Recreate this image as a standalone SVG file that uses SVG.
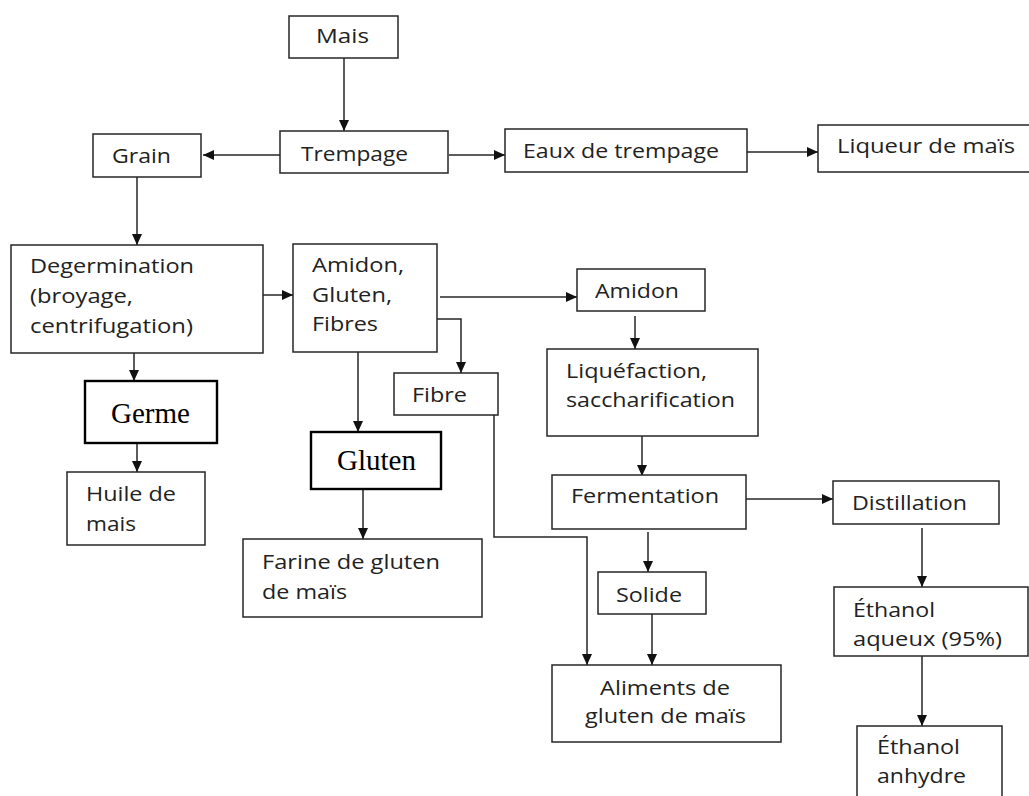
<svg xmlns="http://www.w3.org/2000/svg" width="1029" height="796" viewBox="0 0 1029 796">
  <style>
    .box { fill: #ffffff; stroke: #262626; stroke-width: 1.5; }
    .box-bold { fill: #ffffff; stroke: #000000; stroke-width: 2.4; }
    .lbl { font-family: "Open Sans", "Liberation Sans", sans-serif; font-size: 20px; fill: #222222; }
    .lbl-serif { font-family: "Liberation Serif", "Times New Roman", serif; font-size: 29px; fill: #000000; }
    .link { fill: none; stroke: #262626; stroke-width: 1.5; marker-end: url(#head); }
  </style>
  <defs>
    <marker id="head" markerUnits="userSpaceOnUse" markerWidth="12" markerHeight="12" viewBox="0 0 12 12" refX="11" refY="6" orient="auto">
      <path d="M0,1 L11,6 L0,11 Z" fill="#111111"/>
    </marker>
  </defs>
  <rect width="1029" height="796" fill="#ffffff"/>

  <!-- connectors -->
  <g id="connectors">
    <path class="link" d="M344,58 V131"/>
    <path class="link" d="M280,155 H203"/>
    <path class="link" d="M449,155 H505"/>
    <path class="link" d="M744,152 H818"/>
    <path class="link" d="M137,177 V245"/>
    <path class="link" d="M260,295 H293"/>
    <path class="link" d="M440,297 H577"/>
    <path class="link" d="M437,319 H461 V373"/>
    <path class="link" d="M358,352 V432"/>
    <path class="link" d="M134,353 V381"/>
    <path class="link" d="M137,443 V472"/>
    <path class="link" d="M363,489 V539"/>
    <path class="link" d="M494,415 V537 H587 V665"/>
    <path class="link" d="M635,316 V349"/>
    <path class="link" d="M642,436 V476"/>
    <path class="link" d="M742,499 H833"/>
    <path class="link" d="M648,532 V572"/>
    <path class="link" d="M652,614 V665"/>
    <path class="link" d="M922,528 V587"/>
    <path class="link" d="M922,656 V726"/>
  </g>

  <g id="mais">
    <rect class="box" x="289" y="16" width="109" height="42"/>
    <text class="lbl" x="316" y="43" textLength="53" lengthAdjust="spacingAndGlyphs">Mais</text>
  </g>
  <g id="trempage">
    <rect class="box" x="280" y="131" width="168" height="42"/>
    <text class="lbl" x="301" y="161" textLength="107" lengthAdjust="spacingAndGlyphs">Trempage</text>
  </g>
  <g id="grain">
    <rect class="box" x="93" y="134" width="108" height="43"/>
    <text class="lbl" x="112" y="163" textLength="59" lengthAdjust="spacingAndGlyphs">Grain</text>
  </g>
  <g id="eaux-trempage">
    <rect class="box" x="505" y="129" width="242" height="43"/>
    <text class="lbl" x="523" y="158" textLength="196" lengthAdjust="spacingAndGlyphs">Eaux de trempage</text>
  </g>
  <g id="liqueur">
    <rect class="box" x="818" y="125" width="212" height="47"/>
    <text class="lbl" x="837" y="153" textLength="178" lengthAdjust="spacingAndGlyphs">Liqueur de maïs</text>
  </g>
  <g id="degermination">
    <rect class="box" x="11" y="245" width="252" height="108"/>
    <text class="lbl" x="30" y="273" textLength="164" lengthAdjust="spacingAndGlyphs">Degermination</text>
    <text class="lbl" x="30" y="303" textLength="103" lengthAdjust="spacingAndGlyphs">(broyage,</text>
    <text class="lbl" x="30" y="333" textLength="163" lengthAdjust="spacingAndGlyphs">centrifugation)</text>
  </g>
  <g id="amidon-gluten-fibres">
    <rect class="box" x="293" y="244" width="144" height="108"/>
    <text class="lbl" x="312" y="272" textLength="92" lengthAdjust="spacingAndGlyphs">Amidon,</text>
    <text class="lbl" x="312" y="302" textLength="80" lengthAdjust="spacingAndGlyphs">Gluten,</text>
    <text class="lbl" x="312" y="331" textLength="66" lengthAdjust="spacingAndGlyphs">Fibres</text>
  </g>
  <g id="germe">
    <rect class="box-bold" x="85" y="381" width="132" height="62"/>
    <text class="lbl-serif" x="111" y="423" textLength="79" lengthAdjust="spacingAndGlyphs">Germe</text>
  </g>
  <g id="huile">
    <rect class="box" x="67" y="472" width="138" height="73"/>
    <text class="lbl" x="86" y="501" textLength="90" lengthAdjust="spacingAndGlyphs">Huile de</text>
    <text class="lbl" x="86" y="531" textLength="50" lengthAdjust="spacingAndGlyphs">mais</text>
  </g>
  <g id="fibre">
    <rect class="box" x="394" y="373" width="104" height="42"/>
    <text class="lbl" x="412" y="402" textLength="55" lengthAdjust="spacingAndGlyphs">Fibre</text>
  </g>
  <g id="gluten">
    <rect class="box-bold" x="311" y="432" width="130" height="57"/>
    <text class="lbl-serif" x="337" y="470" textLength="79" lengthAdjust="spacingAndGlyphs">Gluten</text>
  </g>
  <g id="farine">
    <rect class="box" x="243" y="539" width="239" height="78"/>
    <text class="lbl" x="262" y="569" textLength="178" lengthAdjust="spacingAndGlyphs">Farine de gluten</text>
    <text class="lbl" x="262" y="599" textLength="85" lengthAdjust="spacingAndGlyphs">de maïs</text>
  </g>
  <g id="amidon">
    <rect class="box" x="577" y="269" width="128" height="42"/>
    <text class="lbl" x="595" y="298" textLength="84" lengthAdjust="spacingAndGlyphs">Amidon</text>
  </g>
  <g id="liquefaction">
    <rect class="box" x="547" y="349" width="211" height="87"/>
    <text class="lbl" x="566" y="378" textLength="141" lengthAdjust="spacingAndGlyphs">Liquéfaction,</text>
    <text class="lbl" x="566" y="407" textLength="169" lengthAdjust="spacingAndGlyphs">saccharification</text>
  </g>
  <g id="fermentation">
    <rect class="box" x="552" y="475" width="194" height="54"/>
    <text class="lbl" x="571" y="503" textLength="148" lengthAdjust="spacingAndGlyphs">Fermentation</text>
  </g>
  <g id="distillation">
    <rect class="box" x="833" y="481" width="166" height="43"/>
    <text class="lbl" x="852" y="510" textLength="115" lengthAdjust="spacingAndGlyphs">Distillation</text>
  </g>
  <g id="solide">
    <rect class="box" x="598" y="572" width="108" height="42"/>
    <text class="lbl" x="616" y="602" textLength="66" lengthAdjust="spacingAndGlyphs">Solide</text>
  </g>
  <g id="aliments">
    <rect class="box" x="552" y="665" width="229" height="77"/>
    <text class="lbl" x="600" y="695" textLength="130" lengthAdjust="spacingAndGlyphs">Aliments de</text>
    <text class="lbl" x="585" y="723" textLength="161" lengthAdjust="spacingAndGlyphs">gluten de maïs</text>
  </g>
  <g id="ethanol-aqueux">
    <rect class="box" x="834" y="587" width="194" height="69"/>
    <text class="lbl" x="853" y="617" textLength="82" lengthAdjust="spacingAndGlyphs">Éthanol</text>
    <text class="lbl" x="853" y="646" textLength="149" lengthAdjust="spacingAndGlyphs">aqueux (95%)</text>
  </g>
  <g id="ethanol-anhydre">
    <rect class="box" x="857" y="726" width="145" height="90"/>
    <text class="lbl" x="877" y="754" textLength="83" lengthAdjust="spacingAndGlyphs">Éthanol</text>
    <text class="lbl" x="877" y="783" textLength="89" lengthAdjust="spacingAndGlyphs">anhydre</text>
  </g>
</svg>
